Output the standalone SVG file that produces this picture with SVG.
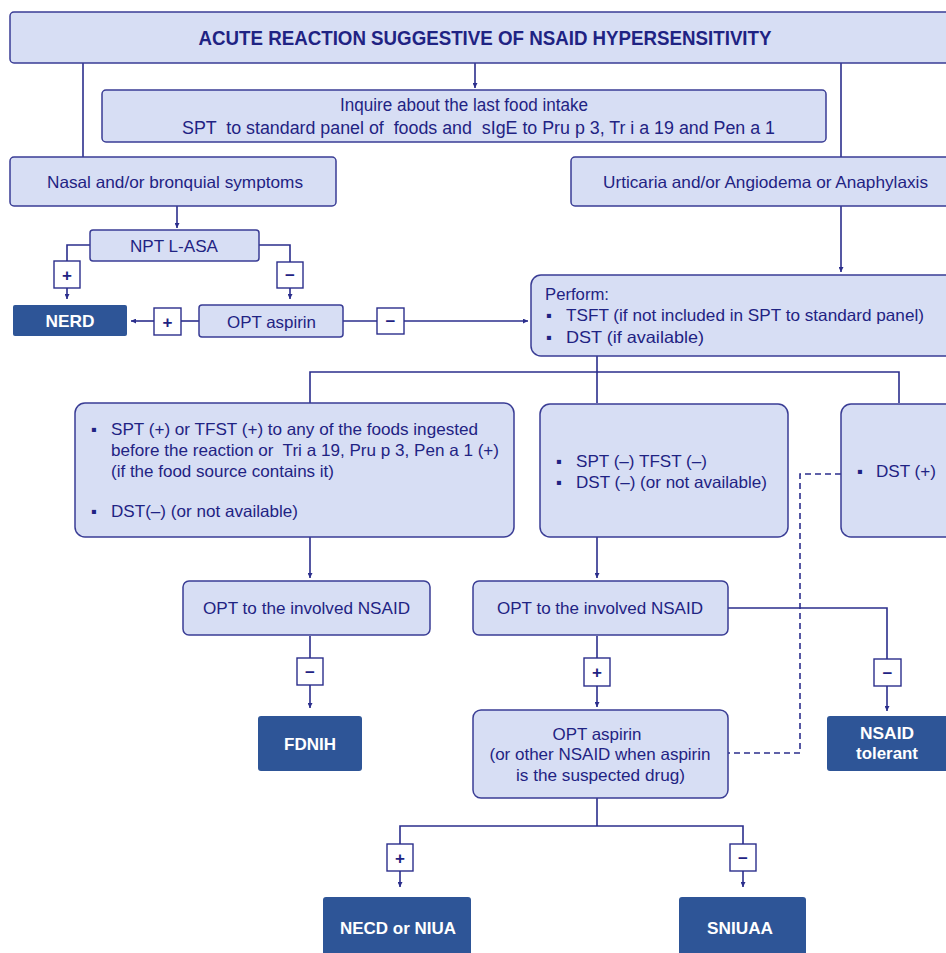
<svg xmlns="http://www.w3.org/2000/svg" width="946" height="953" viewBox="0 0 946 953">
  <style>
    .box { fill: #D7DEF4; stroke: #3A3D95; stroke-width: 1.5; }
    .dark { fill: #2E5597; stroke: none; }
    .sign { fill: #FFFFFF; stroke: #2B2E8C; stroke-width: 1.4; }
    .t { font-family: "Liberation Sans", Arial, sans-serif; fill: #1F2383; font-size: 16.5px; }
    .c { text-anchor: middle; }
    .title { font-weight: bold; font-size: 21px; }
    .narrow { font-size: 17.5px; }
    .w { fill: #FFFFFF; font-weight: bold; font-size: 17px; }
    .s { font-family: "Liberation Sans", Arial, sans-serif; fill: #1F2383; font-size: 17px; font-weight: bold; text-anchor: middle; }
    .pre { white-space: pre; }
    .ln { fill: none; stroke: #2B2E8C; stroke-width: 1.6; }
    .dash { fill: none; stroke: #2B2E8C; stroke-width: 1.6; stroke-dasharray: 6 4; }
  </style>
  <defs>
    <marker id="arr" viewBox="0 0 6 6" refX="6" refY="3" markerWidth="5" markerHeight="5" markerUnits="userSpaceOnUse" orient="auto">
      <path d="M0,0 L6,3 L0,6 z" fill="#2B2E8C"/>
    </marker>
  </defs>

  <rect width="946" height="953" fill="#FFFFFF"/>

  <!-- connectors -->
  <g id="connectors">
    <path class="ln" d="M475,63 V88" marker-end="url(#arr)"/>
    <path class="ln" d="M83,63 V157"/>
    <path class="ln" d="M841,63 V157"/>
    <path class="ln" d="M177,206 V228" marker-end="url(#arr)"/>
    <path class="ln" d="M90,245 H67 V261"/>
    <path class="ln" d="M67,288 V299" marker-end="url(#arr)"/>
    <path class="ln" d="M259,245 H290 V262"/>
    <path class="ln" d="M290,288 V299" marker-end="url(#arr)"/>
    <path class="ln" d="M199,321 H181"/>
    <path class="ln" d="M154,321 H131" marker-end="url(#arr)"/>
    <path class="ln" d="M343,321 H377"/>
    <path class="ln" d="M404,321 H528" marker-end="url(#arr)"/>
    <path class="ln" d="M841,206 V272" marker-end="url(#arr)"/>
    <path class="ln" d="M597,356 V372 M310,403 V372 H899 V403 M597,372 V403"/>
    <path class="ln" d="M310,537 V578" marker-end="url(#arr)"/>
    <path class="ln" d="M310,636 V658"/>
    <path class="ln" d="M310,685 V708" marker-end="url(#arr)"/>
    <path class="ln" d="M597,537 V578" marker-end="url(#arr)"/>
    <path class="ln" d="M597,636 V658"/>
    <path class="ln" d="M597,686 V707" marker-end="url(#arr)"/>
    <path class="ln" d="M728,608 H887 V659"/>
    <path class="ln" d="M887,686 V711" marker-end="url(#arr)"/>
    <path class="dash" d="M841,474 H800 V753 H728"/>
    <path class="ln" d="M597,798 V826 M400,844 V826 H743 V844"/>
    <path class="ln" d="M400,871 V887" marker-end="url(#arr)"/>
    <path class="ln" d="M743,871 V887" marker-end="url(#arr)"/>
  </g>

  <!-- sign boxes on the connectors -->
  <g id="signs">
    <g id="sign-npt-pos"><rect class="sign" x="54" y="261" width="26" height="27"/><text class="s" x="67" y="281">+</text></g>
    <g id="sign-npt-neg"><rect class="sign" x="277" y="262" width="26" height="26"/><text class="s" x="290" y="281">−</text></g>
    <g id="sign-opt-pos"><rect class="sign" x="154" y="308" width="27" height="27"/><text class="s" x="167.5" y="328">+</text></g>
    <g id="sign-opt-neg"><rect class="sign" x="377" y="308" width="27" height="26"/><text class="s" x="390.5" y="327">−</text></g>
    <g id="sign-fd-neg"><rect class="sign" x="297" y="658" width="26" height="27"/><text class="s" x="310" y="678">−</text></g>
    <g id="sign-opt2-pos"><rect class="sign" x="584" y="658" width="26" height="28"/><text class="s" x="597" y="678">+</text></g>
    <g id="sign-tol-neg"><rect class="sign" x="874" y="659" width="27" height="27"/><text class="s" x="887.5" y="679">−</text></g>
    <g id="sign-end-pos"><rect class="sign" x="387" y="844" width="26" height="27"/><text class="s" x="400" y="864">+</text></g>
    <g id="sign-end-neg"><rect class="sign" x="730" y="844" width="26" height="27"/><text class="s" x="743" y="864">−</text></g>
  </g>

  <!-- nodes -->
  <g id="title">
    <rect class="box" x="10" y="12" width="950" height="51" rx="4"/>
    <text class="t c title" x="485" y="45" textLength="573" lengthAdjust="spacingAndGlyphs">ACUTE REACTION SUGGESTIVE OF NSAID HYPERSENSITIVITY</text>
  </g>

  <g id="inquire">
    <rect class="box" x="102" y="90" width="724" height="52" rx="4"/>
    <text class="t c narrow" x="464" y="111" textLength="248" lengthAdjust="spacingAndGlyphs">Inquire about the last food intake</text>
    <text class="t c narrow pre" x="478.5" y="134" textLength="593" lengthAdjust="spacingAndGlyphs">SPT  to standard panel of  foods and  sIgE to Pru p 3, Tr i a 19 and Pen a 1</text>
  </g>

  <g id="nasal">
    <rect class="box" x="10" y="157" width="326" height="49" rx="4"/>
    <text class="t c" x="175" y="188" textLength="256" lengthAdjust="spacingAndGlyphs">Nasal and/or bronquial symptoms</text>
  </g>

  <g id="urticaria">
    <rect class="box" x="571" y="157" width="389" height="49" rx="4"/>
    <text class="t c" x="765.5" y="188" textLength="325" lengthAdjust="spacingAndGlyphs">Urticaria and/or Angiodema or Anaphylaxis</text>
  </g>

  <g id="npt">
    <rect class="box" x="90" y="230" width="169" height="31" rx="3"/>
    <text class="t c" x="174" y="252" textLength="88" lengthAdjust="spacingAndGlyphs">NPT L-ASA</text>
  </g>

  <g id="nerd">
    <rect class="dark" x="13" y="305" width="114" height="31" rx="2"/>
    <text class="t c w" x="70" y="327" textLength="49" lengthAdjust="spacingAndGlyphs">NERD</text>
  </g>

  <g id="opt-aspirin">
    <rect class="box" x="199" y="305" width="144" height="32" rx="3"/>
    <text class="t c" x="271.5" y="328" textLength="89" lengthAdjust="spacingAndGlyphs">OPT aspirin</text>
  </g>

  <g id="perform">
    <rect class="box" x="531" y="275" width="429" height="81" rx="10"/>
    <text class="t" x="545" y="300" textLength="64" lengthAdjust="spacingAndGlyphs">Perform:</text>
    <text class="t" x="546" y="321" font-size="12">▪</text>
    <text class="t" x="566" y="321" textLength="358" lengthAdjust="spacingAndGlyphs">TSFT (if not included in SPT to standard panel)</text>
    <text class="t" x="546" y="343" font-size="12">▪</text>
    <text class="t" x="566" y="343" textLength="138" lengthAdjust="spacingAndGlyphs">DST (if available)</text>
  </g>

  <g id="food-positive">
    <rect class="box" x="75" y="403" width="439" height="134" rx="10"/>
    <text class="t" x="91" y="435" font-size="12">▪</text>
    <text class="t" x="111" y="435" textLength="367" lengthAdjust="spacingAndGlyphs">SPT (+) or TFST (+) to any of the foods ingested</text>
    <text class="t pre" x="111" y="456" textLength="388" lengthAdjust="spacingAndGlyphs">before the reaction or  Tri a 19, Pru p 3, Pen a 1 (+)</text>
    <text class="t" x="111" y="477" textLength="223" lengthAdjust="spacingAndGlyphs">(if the food source contains it)</text>
    <text class="t" x="91" y="517" font-size="12">▪</text>
    <text class="t" x="111" y="517" textLength="187" lengthAdjust="spacingAndGlyphs">DST(–) (or not available)</text>
  </g>

  <g id="food-negative">
    <rect class="box" x="540" y="404" width="248" height="133" rx="10"/>
    <text class="t" x="556" y="467" font-size="12">▪</text>
    <text class="t" x="576" y="467" textLength="131" lengthAdjust="spacingAndGlyphs">SPT (–) TFST (–)</text>
    <text class="t" x="556" y="488" font-size="12">▪</text>
    <text class="t" x="576" y="488" textLength="191" lengthAdjust="spacingAndGlyphs">DST (–) (or not available)</text>
  </g>

  <g id="dst-positive">
    <rect class="box" x="841" y="404" width="119" height="133" rx="10"/>
    <text class="t" x="857" y="477" font-size="12">▪</text>
    <text class="t" x="876" y="477" textLength="60" lengthAdjust="spacingAndGlyphs">DST (+)</text>
  </g>

  <g id="opt-nsaid-1">
    <rect class="box" x="183" y="581" width="247" height="54" rx="6"/>
    <text class="t c" x="306.5" y="614" textLength="207" lengthAdjust="spacingAndGlyphs">OPT to the involved NSAID</text>
  </g>

  <g id="opt-nsaid-2">
    <rect class="box" x="473" y="581" width="255" height="54" rx="6"/>
    <text class="t c" x="600" y="614" textLength="206" lengthAdjust="spacingAndGlyphs">OPT to the involved NSAID</text>
  </g>

  <g id="fdnih">
    <rect class="dark" x="258" y="716" width="104" height="55" rx="3"/>
    <text class="t c w" x="310" y="750" textLength="52" lengthAdjust="spacingAndGlyphs">FDNIH</text>
  </g>

  <g id="nsaid-tolerant">
    <rect class="dark" x="827" y="716" width="133" height="55" rx="3"/>
    <text class="t c w" x="887" y="739" textLength="54" lengthAdjust="spacingAndGlyphs">NSAID</text>
    <text class="t c w" x="887" y="759" textLength="62" lengthAdjust="spacingAndGlyphs">tolerant</text>
  </g>

  <g id="opt-aspirin-2">
    <rect class="box" x="473" y="710" width="255" height="88" rx="8"/>
    <text class="t c" x="597" y="740" textLength="89" lengthAdjust="spacingAndGlyphs">OPT aspirin</text>
    <text class="t c" x="600" y="760" textLength="221" lengthAdjust="spacingAndGlyphs">(or other NSAID when aspirin</text>
    <text class="t c" x="600.5" y="781" textLength="169" lengthAdjust="spacingAndGlyphs">is the suspected drug)</text>
  </g>

  <g id="necd-niua">
    <rect class="dark" x="323" y="897" width="148" height="70" rx="3"/>
    <text class="t c w" x="398" y="934" textLength="116" lengthAdjust="spacingAndGlyphs">NECD or NIUA</text>
  </g>

  <g id="sniuaa">
    <rect class="dark" x="679" y="897" width="127" height="70" rx="3"/>
    <text class="t c w" x="740" y="934" textLength="66" lengthAdjust="spacingAndGlyphs">SNIUAA</text>
  </g>
</svg>
